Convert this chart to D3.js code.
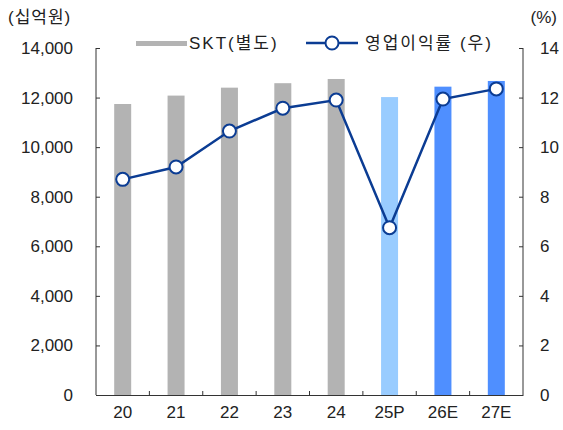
<!DOCTYPE html>
<html>
<head>
<meta charset="utf-8">
<script src="https://cdn.jsdelivr.net/npm/d3@7"></script>
<style>
  body { margin: 0; background: #fff; }
  text { font-family: "Liberation Sans", Arial, "Noto Sans CJK KR", sans-serif; fill: #222; }
</style>
</head>
<body>
<div id="chart"></div>
<script>
const categories = ['20', '21', '22', '23', '24', '25P', '26E', '27E'];
const revenue = [11740, 12080, 12400, 12580, 12750, 12020, 12440, 12670];
const margin = [8.7, 9.2, 10.65, 11.57, 11.9, 6.75, 11.94, 12.35];
const barColors = ['#b3b3b3', '#b3b3b3', '#b3b3b3', '#b3b3b3', '#b3b3b3', '#99ccff', '#4f8fff', '#4f8fff'];
const leftTicks = [0, 2000, 4000, 6000, 8000, 10000, 12000, 14000];
const rightTicks = [0, 2, 4, 6, 8, 10, 12, 14];

const W = 563, H = 430;
const m = {t:48, r:40, b:35, l:96};

const svg = d3.select('#chart')
  .append('svg')
  .attr('width', W)
  .attr('height', H);

const x = d3.scaleBand()
  .domain(categories)
  .range([m.l, W - m.r]);

const yL = d3.scaleLinear().domain([0, 14000]).range([H - m.b, m.t]);
const yR = d3.scaleLinear().domain([0, 14]).range([H - m.b, m.t]);

const lineColor = '#0b3c93';
const axisColor = '#333';

// bars
svg.selectAll('.bar')
  .data(revenue)
  .enter()
  .append('rect')
  .attr('class', 'bar')
  .attr('x', (d, i) => x(categories[i]) + x.bandwidth()/2 - 8.5)
  .attr('width', 17)
  .attr('y', d => yL(d))
  .attr('height', d => yL(0) - yL(d))
  .style('fill', (d, i) => barColors[i]);

// left axis
const gL = svg.append('g')
  .attr('transform', `translate(${m.l}, 0)`)
  .call(d3.axisLeft(yL).tickValues(leftTicks).tickSize(-4).tickPadding(23)
    .tickFormat(d3.format(',')));

// right axis
const gR = svg.append('g')
  .attr('transform', `translate(${W - m.r}, 0)`)
  .call(d3.axisRight(yR).tickValues(rightTicks).tickSize(-4).tickPadding(17));

// bottom axis
const gB = svg.append('g')
  .attr('transform', `translate(0, ${H - m.b})`)
  .call(d3.axisBottom(x).tickSize(0).tickPadding(11));

// small ticks between categories
gB.selectAll('.sep')
  .data(categories.slice(1))
  .enter()
  .append('line')
  .attr('x1', d => x(d))
  .attr('x2', d => x(d))
  .attr('y1', 0)
  .attr('y2', -4)
  .style('stroke', axisColor);

[gL, gR, gB].forEach(g => {
  g.select('.domain').style('stroke', axisColor).style('stroke-width', 1);
  g.selectAll('.tick line').style('stroke', axisColor);
  g.selectAll('text').style('font-size', '17px').style('fill', '#222')
    .style('font-family', '"Liberation Sans", Arial, sans-serif');
});
gL.select('.domain').attr('d', `M0,${m.t}V${H - m.b}`);
gR.select('.domain').attr('d', `M0,${m.t}V${H - m.b}`);

// line
const line = d3.line()
  .x((d, i) => x(categories[i]) + x.bandwidth()/2)
  .y(d => yR(d));

svg.append('path')
  .datum(margin)
  .attr('d', line)
  .style('fill', 'none')
  .style('stroke', lineColor)
  .style('stroke-width', 2.5);

svg.selectAll('.dot')
  .data(margin)
  .enter()
  .append('circle')
  .attr('class', 'dot')
  .attr('cx', (d, i) => x(categories[i]) + x.bandwidth()/2)
  .attr('cy', d => yR(d))
  .attr('r', 6.5)
  .style('fill', '#fff')
  .style('stroke', lineColor)
  .style('stroke-width', 2);

// unit labels
svg.append('text').attr('x', 8).attr('y', 23).text('(십억원)')
  .style('font-size', '17px').style('letter-spacing', '1px');
svg.append('text').attr('x', 557).attr('y', 23).attr('text-anchor', 'end').text('(%)').style('font-size', '17px');

// legend
const lg = svg.append('g');
lg.append('rect').attr('x', 136).attr('y', 41).attr('width', 51).attr('height', 5).style('fill', '#b3b3b3');
lg.append('text').attr('x', 189).attr('y', 49).text('SKT(별도)')
  .style('font-size', '17px').style('letter-spacing', '2px');
lg.append('line').attr('x1', 306).attr('x2', 358).attr('y1', 43).attr('y2', 43)
  .style('stroke', lineColor).style('stroke-width', 2.5);
lg.append('circle').attr('cx', 332).attr('cy', 43).attr('r', 6.5)
  .style('fill', '#fff').style('stroke', lineColor).style('stroke-width', 2);
lg.append('text').attr('x', 365).attr('y', 49).text('영업이익률 (우)')
  .style('font-size', '17px').style('letter-spacing', '2px');
</script>
</body>
</html>
